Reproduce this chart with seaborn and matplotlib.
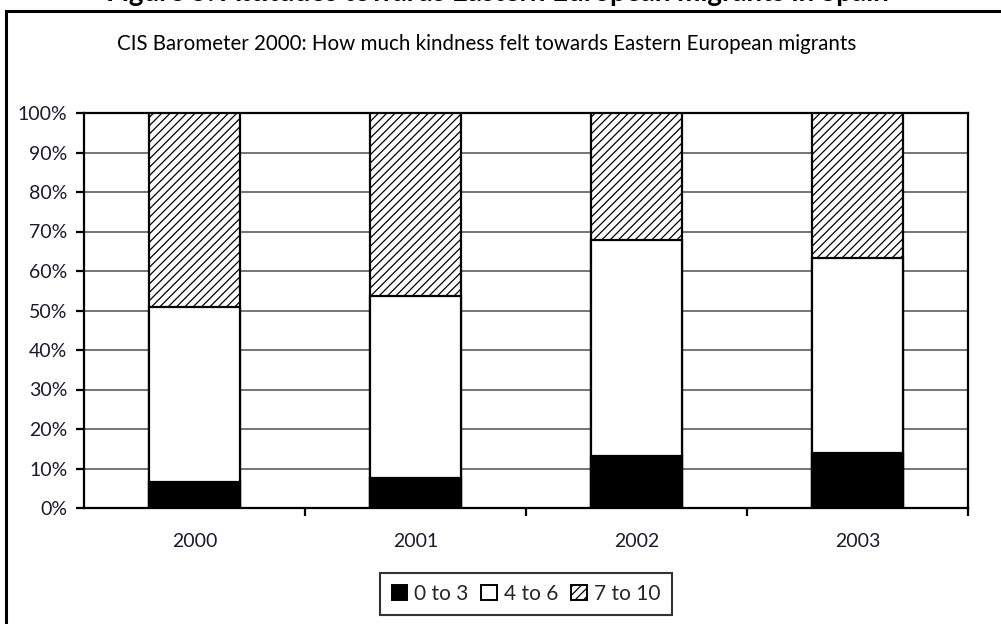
import matplotlib
matplotlib.use("Agg")
import matplotlib.pyplot as plt
import matplotlib.patches as mpatches
import seaborn as sns
import pandas as pd
import numpy as np

# Survey shares (% of respondents) by kindness score band
years = ["2000", "2001", "2002", "2003"]
low_0_3 = [6.5, 7.6, 13.2, 14.0]
mid_4_6 = [44.5, 46.1, 54.6, 49.4]
high_7_10 = [49.0, 46.3, 32.2, 36.6]
bands = ["0 to 3", "4 to 6", "7 to 10"]
y_ticks = [0, 10, 20, 30, 40, 50, 60, 70, 80, 90, 100]

sns.set_theme(style="white")
plt.rcParams["font.family"] = ["Lato", "DejaVu Sans"]
plt.rcParams["hatch.linewidth"] = 0.9

df = pd.DataFrame({"year": years, "low": low_0_3, "mid": mid_4_6, "high": high_7_10})
df["cum_mid"] = df["low"] + df["mid"]
df["cum_high"] = df["cum_mid"] + df["high"]

fig = plt.figure(figsize=(10.01, 6.24), dpi=100)
ax = fig.add_axes([84 / 1001, 1 - 508 / 624, (968 - 84) / 1001, (508 - 113) / 624])

bar_w = 0.41
# stacked bars drawn back to front: full stack, then lower two bands, then lowest band
sns.barplot(data=df, x="year", y="cum_high", color="white", width=bar_w,
            edgecolor="black", linewidth=1.6, hatch="////", ax=ax)
sns.barplot(data=df, x="year", y="cum_mid", color="white", width=bar_w,
            edgecolor="black", linewidth=1.6, ax=ax)
sns.barplot(data=df, x="year", y="low", color="black", width=bar_w,
            edgecolor="black", linewidth=1.6, ax=ax)
for p in ax.patches:
    p.set_zorder(3)

ax.set_ylim(0, 100)
ax.set_xlim(-0.5, 3.5)
ax.set_yticks(y_ticks)
ax.set_yticklabels([f"{v}%" for v in y_ticks])
ax.yaxis.grid(True, color="#505050", linewidth=1.1, zorder=0)
ax.xaxis.grid(False)
ax.set_axisbelow(True)
ax.set_xlabel("")
ax.set_ylabel("")

for s in ax.spines.values():
    s.set_visible(True)
    s.set_color("black")
    s.set_linewidth(1.6)

ax.tick_params(axis="y", which="major", left=True, length=6, width=1.6,
               color="black", labelsize=14, labelcolor="#1a1a2a", pad=6)
ax.tick_params(axis="x", which="major", bottom=False, length=0, labelsize=14,
               labelcolor="#1a1a2a", pad=18)
ax.set_xticks([0.5, 1.5, 2.5, 3.5], minor=True)
ax.tick_params(axis="x", which="minor", bottom=True, length=6, width=1.6,
               color="black")

fig.text(487 / 1001, 1 - 44 / 624, "CIS Barometer 2000: How much kindness felt towards Eastern European migrants",
         ha="center", va="center", fontsize=14.8, color="black")

# figure caption, running off the top edge above the frame
fig.text(497 / 1001, 1 - 1 / 624, "Figure 5: Attitudes towards Eastern European migrants in Spain",
         ha="center", va="baseline", fontsize=20, fontweight="bold", color="black")

# outer frame
frame = mpatches.Rectangle((6 / 1001, -0.1), 1.2, 1 - 11 / 624 + 0.1, transform=fig.transFigure,
                           fill=False, edgecolor="black", linewidth=2.2, clip_on=False)
fig.add_artist(frame)

handles = [
    mpatches.Patch(facecolor="black", edgecolor="black", linewidth=1.4),
    mpatches.Patch(facecolor="white", edgecolor="black", linewidth=1.4),
    mpatches.Patch(facecolor="white", edgecolor="black", linewidth=1.4, hatch="////"),
]
leg = fig.legend(handles, bands, loc="center", bbox_to_anchor=(526 / 1001, 1 - 594 / 624),
                 ncol=3, frameon=True, fancybox=False, fontsize=15, handlelength=0.75,
                 handleheight=0.75, handletextpad=0.35, columnspacing=0.6,
                 borderpad=0.55, borderaxespad=0)
leg.get_frame().set_edgecolor("black")
leg.get_frame().set_linewidth(1.5)

fig.savefig("out.png", dpi=100)
